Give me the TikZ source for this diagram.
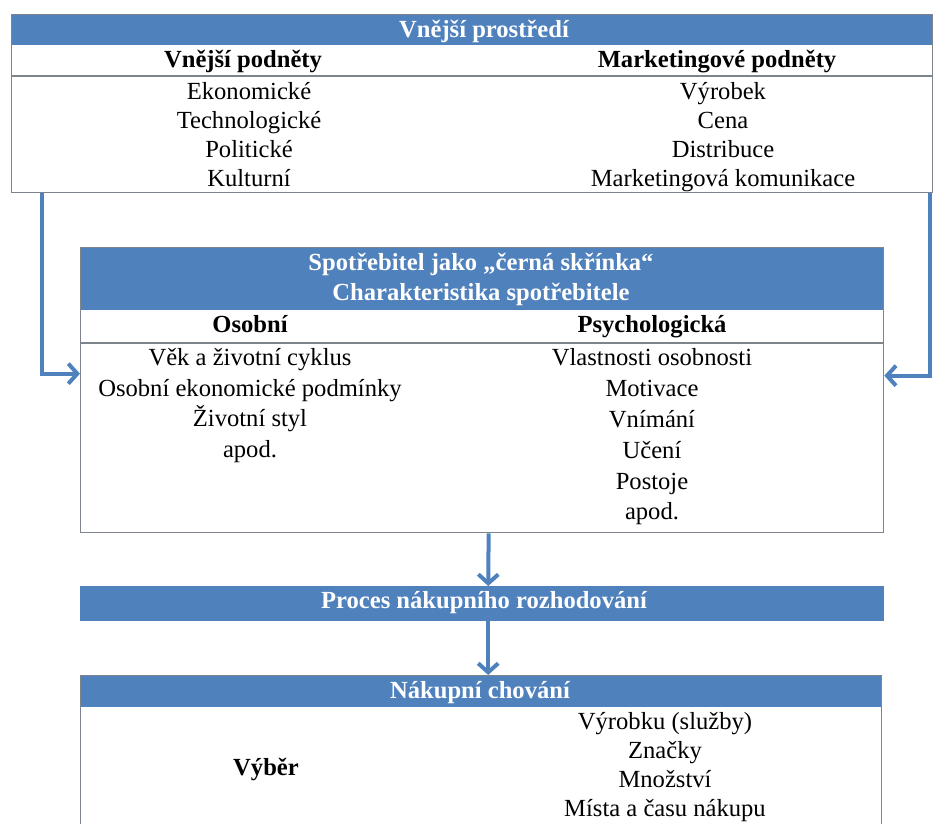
\documentclass[tikz,border=0pt]{standalone}
\usepackage{fontspec}
\setmainfont{Liberation Serif}
\usetikzlibrary{arrows.meta}

\definecolor{headblue}{RGB}{79,129,189}
\definecolor{rimgray}{RGB}{125,132,140}
\newcommand\boxsize{\fontsize{24.6}{29}\selectfont}

\tikzset{
  panel/.style={draw=rimgray, line width=1.3pt, anchor=north west, inner sep=0pt},
  band/.style={fill=headblue, anchor=north west, inner sep=0pt},
  rule/.style={draw=rimgray, line width=1.3pt},
  headtxt/.style={text=white, font=\boxsize\bfseries, anchor=base, inner sep=0pt},
  coltxt/.style={font=\boxsize\bfseries, anchor=base, inner sep=0pt},
  itemtxt/.style={font=\boxsize, anchor=base, inner sep=0pt},
  flow/.style={draw=headblue, line width=4pt, -{Straight Barb[length=9pt,width=20pt]}},
}

\begin{document}
\begin{tikzpicture}[x=1pt, y=-1pt]
\useasboundingbox (0,0) rectangle (945,823);

  % Vnejsi prostredi
  \node[band, minimum width=921pt, minimum height=31pt] (envband) at (11,14) {};
  \node[panel, minimum width=921pt, minimum height=178pt] (outer) at (11,14) {};
  \draw[rule] (outer.west |- 0,76) -- (outer.east |- 0,76);
  \node[headtxt] (envtitle) at (484,37) {Vnější prostředí};
  \node[coltxt] (extcol) at (243,67) {Vnější podněty};
  \node[coltxt] (mktcol) at (717,67) {Marketingové podněty};
  \foreach \txt [count=\i] in {Ekonomické,Technologické,Politické,Kulturní}
    \node[itemtxt] (ext\i) at (249,70+29*\i) {\txt};
  \foreach \txt [count=\i] in {Výrobek,Cena,Distribuce,Marketingová komunikace}
    \node[itemtxt] (mkt\i) at (723,70+29*\i) {\txt};

  % Spotrebitel jako cerna skrinka
  \node[band, minimum width=803pt, minimum height=63pt] (consband) at (80,247) {};
  \node[panel, minimum width=803pt, minimum height=285pt] (cons) at (80,247) {};
  \draw[rule] (cons.west |- 0,343) -- (cons.east |- 0,343);
  \node[headtxt] (constitle) at (481,270) {Spotřebitel jako „černá skřínka“};
  \node[headtxt] (conssub) at (481,300) {Charakteristika spotřebitele};
  \node[coltxt] (perscol) at (250,332) {Osobní};
  \node[coltxt] (psycol) at (652,332) {Psychologická};
  \foreach \txt [count=\i] in {Věk a životní cyklus,Osobní ekonomické podmínky,Životní styl,apod.}
    \node[itemtxt] (pers\i) at (250,335+30.6*\i) {\txt};
  \foreach \txt [count=\i] in {Vlastnosti osobnosti,Motivace,Vnímání,Učení,Postoje,apod.}
    \node[itemtxt] (psy\i) at (652,335+30.8*\i) {\txt};

  % Proces nakupniho rozhodovani
  \node[band, minimum width=804pt, minimum height=35pt] (proc) at (80,586) {};
  \node[headtxt] (proctitle) at (484,608) {Proces nákupního rozhodování};

  % Nakupni chovani
  \node[band, minimum width=801pt, minimum height=32pt] (buyband) at (80,675) {};
  \node[panel, minimum width=801pt, minimum height=170pt] (buy) at (80,675) {};
  \node[headtxt] (buytitle) at (480,698) {Nákupní chování};
  \node[coltxt] (choice) at (266,775) {Výběr};
  \foreach \txt [count=\i] in {Výrobku (služby),Značky,Množství,Místa a času nákupu}
    \node[itemtxt] (pick\i) at (665,700+29*\i) {\txt};

  % connectors
  \draw[flow] ([xshift=31pt]outer.south west) |- ([yshift=16.5pt]cons.west);
  \draw[flow] ([xshift=-3pt]outer.south east) |- ([yshift=14.5pt]cons.east);
  \draw[flow] ([xshift=6.5pt]cons.south) -- ([xshift=6pt]proc.north);
  \draw[flow] ([xshift=6pt]proc.south) -- ([xshift=7.5pt]buyband.north);

\end{tikzpicture}
\end{document}
